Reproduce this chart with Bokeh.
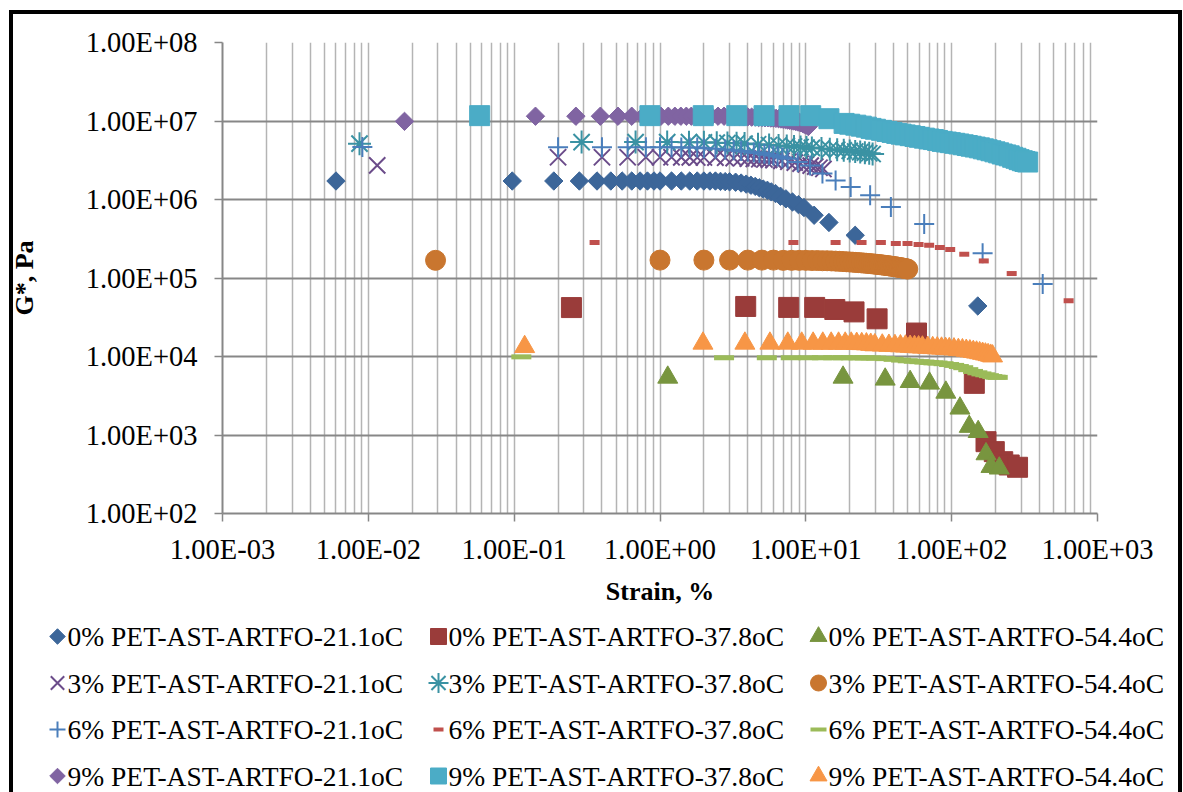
from bokeh.plotting import figure
from bokeh.layouts import column
from bokeh.models import Range1d, FixedTicker, CustomJSTickFormatter, ColumnDataSource
from bokeh.core.properties import value
from bokeh.embed import file_html
from bokeh.resources import INLINE

# ---- Strain (%) and complex shear modulus G* (Pa) ----
# 0% PET, 21.1 oC
strain_0_21 = [0.006, 0.097, 0.187, 0.28, 0.37, 0.46, 0.55, 0.64, 0.73, 0.82, 0.91, 1.0,
               1.2, 1.4, 1.6, 1.8, 2.0, 2.2, 2.4, 2.6, 2.8, 3.0, 3.3, 3.6, 3.9, 4.2, 4.5,
               4.8, 5.1, 5.45, 5.8, 6.2, 6.7, 7.3, 8.1, 8.9, 9.7, 11.4, 14.4, 21.8, 151]
gstar_0_21 = [1.72e6, 1.72e6, 1.72e6, 1.72e6, 1.72e6, 1.72e6, 1.72e6, 1.72e6, 1.72e6,
              1.72e6, 1.72e6, 1.72e6, 1.72e6, 1.72e6, 1.72e6, 1.72e6, 1.72e6, 1.72e6,
              1.72e6, 1.70e6, 1.69e6, 1.68e6, 1.66e6, 1.62e6, 1.57e6, 1.52e6, 1.47e6,
              1.41e6, 1.36e6, 1.31e6, 1.25e6, 1.19e6, 1.10e6, 1.02e6, 9.3e5, 8.6e5,
              7.9e5, 6.3e5, 5.1e5, 3.5e5, 4.4e4]

# 0% PET, 37.8 oC
strain_0_38 = [0.247, 3.87, 7.63, 11.5, 15.8, 21.4, 30.8, 57.4, 143, 172, 196, 224, 248, 283]
gstar_0_38 = [4.2e4, 4.34e4, 4.22e4, 4.22e4, 3.97e4, 3.7e4, 3.02e4, 1.99e4, 4.55e3,
              822, 614, 457, 415, 388]

# 0% PET, 54.4 oC
strain_0_54 = [1.13, 18.0, 35.0, 51.9, 70.5, 91.2, 114, 132, 152, 172, 186, 212]
gstar_0_54 = [5.42e3, 5.42e3, 5.12e3, 4.77e3, 4.55e3, 3.49e3, 2.19e3, 1.28e3, 1.10e3,
              573, 395, 377]

# 3% PET, 21.1 oC
strain_3_21 = [0.0115, 0.2, 0.4, 0.6, 0.8, 1.0, 1.2, 1.4, 1.6, 1.8, 2.0, 2.4, 2.8, 3.2,
               3.6, 4.0, 4.4, 4.8, 5.2, 5.6, 6.0, 6.8, 7.6, 8.4, 9.2, 10.0, 10.8, 11.6,
               12.4, 13.2]
gstar_3_21 = [2.72e6, 3.45e6, 3.45e6, 3.45e6, 3.45e6, 3.45e6, 3.45e6, 3.44e6, 3.44e6,
              3.43e6, 3.43e6, 3.42e6, 3.40e6, 3.37e6, 3.35e6, 3.32e6, 3.29e6, 3.26e6,
              3.23e6, 3.20e6, 3.17e6, 3.10e6, 3.03e6, 2.95e6, 2.87e6, 2.79e6, 2.70e6,
              2.62e6, 2.54e6, 2.45e6]

# 3% PET, 37.8 oC
strain_3_38 = [0.0087, 0.29, 0.68, 1.12, 1.58, 2.0, 2.45, 2.9, 3.35, 3.8, 4.7, 5.6, 6.5,
               7.4, 8.3, 9.2, 10.1, 11.0, 12.8, 14.6, 16.4, 18.2, 20.0, 21.8, 23.6, 25.4,
               27.2, 28.7]
gstar_3_38 = [5.14e6, 5.39e6, 5.39e6, 5.39e6, 5.38e6, 5.35e6, 5.30e6, 5.25e6, 5.20e6,
              5.15e6, 5.05e6, 4.95e6, 4.87e6, 4.80e6, 4.73e6, 4.66e6, 4.60e6, 4.54e6,
              4.45e6, 4.37e6, 4.30e6, 4.23e6, 4.16e6, 4.09e6, 4.02e6, 3.95e6, 3.88e6,
              3.80e6]

# 3% PET, 54.4 oC
strain_3_54 = [0.0289, 1, 2, 3, 4, 5, 6, 7, 8, 9, 10, 11, 12, 13, 14, 15, 16, 17, 18, 19,
               20, 21, 22, 23, 24, 25, 26, 27, 28, 29, 30, 31, 32, 33, 34, 35, 36, 37,
               38, 39, 40, 41, 42, 43, 44, 45, 46, 47, 48, 49, 50]
gstar_3_54 = [1.68e5, 1.69e5, 1.69e5, 1.69e5, 1.69e5, 1.69e5, 1.69e5, 1.68e5, 1.68e5,
              1.68e5, 1.68e5, 1.67e5, 1.67e5, 1.66e5, 1.66e5, 1.65e5, 1.64e5, 1.63e5,
              1.62e5, 1.61e5, 1.60e5, 1.59e5, 1.58e5, 1.57e5, 1.56e5, 1.55e5, 1.54e5,
              1.53e5, 1.52e5, 1.51e5, 1.50e5, 1.49e5, 1.48e5, 1.47e5, 1.46e5, 1.45e5,
              1.44e5, 1.43e5, 1.42e5, 1.41e5, 1.40e5, 1.39e5, 1.38e5, 1.37e5, 1.36e5,
              1.35e5, 1.34e5, 1.33e5, 1.32e5, 1.31e5, 1.30e5]

# 6% PET, 21.1 oC
strain_6_21 = [0.0091, 0.2, 0.4, 0.6, 0.8, 1.0, 1.2, 1.4, 1.6, 1.8, 2.0, 2.4, 2.8, 3.2,
               3.6, 4.0, 4.4, 4.8, 5.2, 5.6, 6.0, 6.4, 6.9, 7.5, 8.8, 10.7, 13.0, 16.0,
               20.3, 27.6, 38.3, 64.8, 163, 421]
gstar_6_21 = [4.66e6, 4.62e6, 4.62e6, 4.62e6, 4.62e6, 4.62e6, 4.62e6, 4.61e6, 4.60e6,
              4.58e6, 4.50e6, 4.42e6, 4.33e6, 4.24e6, 4.15e6, 4.06e6, 3.98e6, 3.90e6,
              3.82e6, 3.72e6, 3.63e6, 3.54e6, 3.43e6, 3.31e6, 3.00e6, 2.72e6, 2.14e6,
              1.75e6, 1.44e6, 1.13e6, 8.0e5, 4.87e5, 2.07e5, 8.4e4]

# 6% PET, 37.8 oC
strain_6_38 = [0.356, 8.22, 16.0, 24.1, 32.7, 41.4, 49.8, 59.3, 70.1, 83.0, 97.7, 122,
               166, 258, 634]
gstar_6_38 = [2.83e5, 2.83e5, 2.83e5, 2.83e5, 2.83e5, 2.75e5, 2.75e5, 2.67e5, 2.61e5,
              2.44e5, 2.30e5, 2.01e5, 1.65e5, 1.14e5, 5.12e4]

# 6% PET, 54.4 oC
strain_6_54 = [0.112, 2.75, 5.4, 7.88, 10.4, 12.9, 15.4, 17.9, 20.4, 22.9, 25.4, 27.9,
               30.4, 35, 40, 45, 50, 55, 60, 65, 70, 75, 80, 88, 96, 104, 112, 120, 130,
               140, 150, 160, 170, 180, 190, 200, 207]
gstar_6_54 = [9.9e3, 9.64e3, 9.64e3, 9.64e3, 9.64e3, 9.64e3, 9.64e3, 9.64e3, 9.64e3,
              9.62e3, 9.60e3, 9.58e3, 9.55e3, 9.4e3, 9.2e3, 9.0e3, 8.82e3, 8.7e3, 8.6e3,
              8.5e3, 8.4e3, 8.3e3, 8.25e3, 8.1e3, 7.9e3, 7.7e3, 7.45e3, 7.2e3, 6.8e3,
              6.45e3, 6.2e3, 6.0e3, 5.85e3, 5.7e3, 5.55e3, 5.45e3, 5.42e3]

# 9% PET, 21.1 oC
strain_9_21 = [0.0177, 0.14, 0.265, 0.39, 0.515, 0.64, 0.765, 0.89, 1.015, 1.14, 1.265,
               1.39, 1.515, 1.64, 1.765, 1.89, 2.0, 2.25, 2.5, 2.75, 3.0, 3.25, 3.5, 3.75,
               4.0, 4.25, 4.5, 4.75, 5.0, 5.25, 5.5, 5.75, 6.0, 6.25, 6.5, 6.75, 7.0,
               7.25, 7.5, 7.75, 8.0, 8.25, 8.5, 8.75, 9.0, 9.25, 9.5, 9.75, 10.0, 10.4]
gstar_9_21 = [9.9e6, 1.15e7, 1.15e7, 1.15e7, 1.15e7, 1.15e7, 1.15e7, 1.15e7, 1.15e7,
              1.15e7, 1.15e7, 1.15e7, 1.15e7, 1.15e7, 1.15e7, 1.15e7, 1.15e7, 1.15e7,
              1.15e7, 1.15e7, 1.15e7, 1.14e7, 1.14e7, 1.13e7, 1.13e7, 1.12e7, 1.12e7,
              1.11e7, 1.11e7, 1.10e7, 1.10e7, 1.09e7, 1.09e7, 1.08e7, 1.07e7, 1.06e7,
              1.05e7, 1.04e7, 1.03e7, 1.02e7, 1.01e7, 1.00e7, 9.9e6, 9.8e6, 9.65e6,
              9.5e6, 9.3e6, 9.1e6, 8.9e6, 8.5e6]

# 9% PET, 37.8 oC
strain_9_38 = [0.058, 0.853, 1.98, 3.36, 5.17, 7.67, 10.8, 14.4, 18.3, 20, 22, 24, 26,
               28, 30, 33, 36, 39, 42, 45, 48, 52, 56, 60, 65, 70, 75, 80, 86, 92, 98,
               105, 112, 120, 128, 136, 145, 155, 165, 175, 186, 198, 210, 222, 235, 248,
               262, 276, 290, 305, 318, 332]
gstar_9_38 = [1.17e7, 1.17e7, 1.17e7, 1.17e7, 1.17e7, 1.17e7, 1.17e7, 1.07e7, 9.32e6,
              9.1e6, 8.85e6, 8.6e6, 8.35e6, 8.05e6, 7.85e6, 7.6e6, 7.35e6, 7.15e6,
              6.95e6, 6.8e6, 6.65e6, 6.5e6, 6.35e6, 6.2e6, 6.05e6, 5.9e6, 5.8e6, 5.65e6,
              5.5e6, 5.4e6, 5.3e6, 5.2e6, 5.1e6, 4.98e6, 4.87e6, 4.77e6, 4.66e6, 4.55e6,
              4.42e6, 4.3e6, 4.18e6, 4.05e6, 3.93e6, 3.8e6, 3.7e6, 3.6e6, 3.45e6, 3.35e6,
              3.22e6, 3.12e6, 3.05e6, 3.0e6]

# 9% PET, 54.4 oC
strain_9_54 = [0.118, 1.97, 3.82, 5.67, 7.52, 9.37, 11.22, 13.07, 14.92, 16.77, 18.62,
               20.47, 22.32, 24.17, 26.02, 27.87, 29.72, 33.42, 37.12, 40.82, 44.52, 48.22,
               51.92, 55.62, 59.32, 63.02, 68.57, 74.12, 79.67, 85.22, 90.77, 96.32,
               103.72, 111.12, 118.52, 125.92, 133.32, 140.72, 148.12, 155.52, 162.92,
               170.32, 177.72, 185.12, 190.67]
gstar_9_54 = [1.33e4, 1.47e4, 1.47e4, 1.47e4, 1.47e4, 1.47e4, 1.47e4, 1.47e4, 1.47e4,
              1.47e4, 1.47e4, 1.47e4, 1.46e4, 1.45e4, 1.44e4, 1.42e4, 1.40e4, 1.39e4,
              1.38e4, 1.37e4, 1.36e4, 1.35e4, 1.34e4, 1.33e4, 1.32e4, 1.31e4, 1.30e4,
              1.29e4, 1.28e4, 1.27e4, 1.26e4, 1.25e4, 1.24e4, 1.22e4, 1.21e4, 1.19e4,
              1.17e4, 1.15e4, 1.13e4, 1.11e4, 1.09e4, 1.07e4, 1.05e4, 1.03e4, 1.01e4]

series_names = [
    "0% PET-AST-ARTFO-21.1oC", "0% PET-AST-ARTFO-37.8oC", "0% PET-AST-ARTFO-54.4oC",
    "3% PET-AST-ARTFO-21.1oC", "3% PET-AST-ARTFO-37.8oC", "3% PET-AST-ARTFO-54.4oC",
    "6% PET-AST-ARTFO-21.1oC", "6% PET-AST-ARTFO-37.8oC", "6% PET-AST-ARTFO-54.4oC",
    "9% PET-AST-ARTFO-21.1oC", "9% PET-AST-ARTFO-37.8oC", "9% PET-AST-ARTFO-54.4oC",
]
series_strain = [strain_0_21, strain_0_38, strain_0_54, strain_3_21, strain_3_38,
                 strain_3_54, strain_6_21, strain_6_38, strain_6_54, strain_9_21,
                 strain_9_38, strain_9_54]
series_gstar = [gstar_0_21, gstar_0_38, gstar_0_54, gstar_3_21, gstar_3_38, gstar_3_54,
                gstar_6_21, gstar_6_38, gstar_6_54, gstar_9_21, gstar_9_38, gstar_9_54]

x_tick_labels = ["1.00E-03", "1.00E-02", "1.00E-01", "1.00E+00", "1.00E+01",
                 "1.00E+02", "1.00E+03"]
y_tick_labels = ["1.00E+02", "1.00E+03", "1.00E+04", "1.00E+05", "1.00E+06",
                 "1.00E+07", "1.00E+08"]

# marker styles: (marker, plot size, key size, colour, line width, key line width, angle)
DIAMOND = 0.7853981634
styles = [
    ("square", 13, 11, "#3C6699", 1, 1, DIAMOND),
    ("square", 20, 16, "#9A3C3A", 1, 1, 0.0),
    ("triangle", 20, 17, "#78953F", 1, 1, 0.0),
    ("x", 23, 19, "#6B4C8A", 2, 2, 0.0),
    ("asterisk", 23, 20, "#3A92A3", 2, 2, 0.0),
    ("circle", 20, 16, "#C9762F", 1, 1, 0.0),
    ("cross", 20, 16, "#4A7EBB", 2, 2, 0.0),
    ("dash", 10, 10, "#C0504D", 5, 4, 0.0),
    ("dash", 20, 16, "#9BBB59", 5, 4, 0.0),
    ("square", 13, 11, "#8064A2", 1, 1, DIAMOND),
    ("square", 20, 16, "#4BACC6", 1, 1, 0.0),
    ("triangle", 20, 17, "#F79646", 1, 1, 0.0),
]

SERIF = "Liberation Serif"
GRID_DARK = "#878787"
GRID_LIGHT = "#B4B4B4"
PAGE_W, PAGE_H = 1183, 792
PLOT_H = 610

# outer chart border (left, top and right edges; the bottom edge lies below the page)
BORDER_CSS = """
:host::after {
  content: "";
  position: absolute;
  left: 9px;
  top: 10px;
  width: 1165px;
  height: 778px;
  box-sizing: content-box;
  border-left: 4px solid black;
  border-top: 4px solid black;
  border-right: 4px solid black;
  pointer-events: none;
  z-index: 10;
}
"""

# ---------------- main chart ----------------
p = figure(width=PAGE_W, height=PLOT_H, x_axis_type="log", y_axis_type="log",
           x_range=Range1d(1e-3, 1e3), y_range=Range1d(1e2, 1e8),
           output_backend="svg", toolbar_location=None,
           min_border_left=222, min_border_right=86, min_border_top=42,
           min_border_bottom=PLOT_H - 513)
p.outline_line_color = None
p.background_fill_color = "white"
p.border_fill_color = "white"

x_major = [10.0 ** k for k in range(-3, 4)]
x_minor = [m * 10.0 ** k for k in range(-3, 3) for m in range(2, 10)]
y_major = [10.0 ** k for k in range(2, 9)]

x_ticker = FixedTicker(ticks=x_major, minor_ticks=x_minor)
y_ticker = FixedTicker(ticks=y_major, minor_ticks=[])
p.xaxis.ticker = x_ticker
p.yaxis.ticker = y_ticker
p.xgrid.ticker = x_ticker
p.ygrid.ticker = y_ticker

p.xaxis.formatter = CustomJSTickFormatter(args=dict(labels=x_tick_labels), code="""
    const k = Math.round(Math.log10(tick)) + 3;
    return labels[k];
""")
p.yaxis.formatter = CustomJSTickFormatter(args=dict(labels=y_tick_labels), code="""
    const k = Math.round(Math.log10(tick)) - 2;
    return labels[k];
""")

for ax in (p.xaxis[0], p.yaxis[0]):
    ax.axis_line_color = GRID_DARK
    ax.axis_line_width = 2
    ax.major_tick_line_color = GRID_DARK
    ax.major_tick_line_width = 1.5
    ax.major_tick_out = 8
    ax.major_tick_in = 0
    ax.minor_tick_line_color = None
    ax.major_label_text_font = SERIF
    ax.major_label_text_font_size = "28.5px"
    ax.major_label_text_color = "black"
    ax.axis_label_text_font = SERIF
    ax.axis_label_text_font_style = "bold"
    ax.axis_label_text_font_size = "26px"
    ax.axis_label_text_color = "black"

p.xaxis.axis_label = "Strain, %"
p.yaxis.axis_label = "G*, Pa"
p.xaxis.major_label_standoff = 12
p.yaxis.major_label_standoff = 17
p.xaxis.axis_label_standoff = 9
p.yaxis.axis_label_standoff = 44

p.xgrid.grid_line_color = GRID_LIGHT
p.xgrid.grid_line_width = 1.5
p.xgrid.minor_grid_line_color = GRID_LIGHT
p.xgrid.minor_grid_line_width = 1.5
p.ygrid.grid_line_color = GRID_DARK
p.ygrid.grid_line_width = 2

for xs, ys, (mk, sz, _, col, lw, _, ang) in zip(series_strain, series_gstar, styles):
    p.scatter(xs, ys, marker=mk, size=sz, fill_color=col, line_color=col,
              line_width=lw, angle=ang)

# ---------------- key (3 columns x 4 rows) ----------------
# the key panel uses page-pixel coordinates: x from the left, y from the top
key = figure(width=PAGE_W, height=PAGE_H - PLOT_H,
             x_range=Range1d(0, PAGE_W), y_range=Range1d(PAGE_H, PLOT_H),
             x_axis_location=None, y_axis_location=None,
             output_backend="svg", toolbar_location=None, min_border=0)
key.grid.visible = False
key.outline_line_color = None
key.background_fill_color = None
key.border_fill_color = None

# the key's frame spans its whole canvas, independent of the chart's frame
for fig in (p, key):
    if "frame_align" in fig.properties():
        fig.frame_align = False

KEY_FIRST_ROW = 636
KEY_ROW_STEP = 46.5
KEY_COL_MARK = [57, 438, 818]
KEY_TEXT_GAP = 10

text_x, text_y = [], []
for i, (mk, _, ksz, col, _, klw, ang) in enumerate(styles):
    row, colno = divmod(i, 3)
    mx = KEY_COL_MARK[colno]
    my = KEY_FIRST_ROW + row * KEY_ROW_STEP
    key.scatter([mx], [my], marker=mk, size=ksz, fill_color=col, line_color=col,
                line_width=klw, angle=ang)
    text_x.append(mx + KEY_TEXT_GAP)
    text_y.append(my)

key.text(x="x", y="y", text="label",
         source=ColumnDataSource(dict(x=text_x, y=text_y, label=series_names)),
         text_font=value(SERIF), text_font_size="27.5px", text_color="black",
         text_align="left", text_baseline="middle")

page = column(p, key, spacing=0, stylesheets=[BORDER_CSS])

open("out.html", "w").write(file_html(page, INLINE))
